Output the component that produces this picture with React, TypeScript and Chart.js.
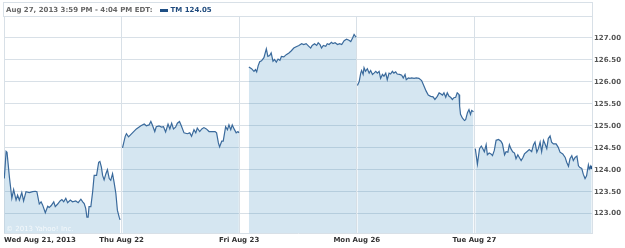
import React, { useEffect, useRef } from 'react';
import { Chart, registerables } from 'chart.js';

Chart.register(...registerables);

const dayLabels = ['Wed Aug 21, 2013', 'Thu Aug 22', 'Fri Aug 23', 'Mon Aug 26', 'Tue Aug 27', ''];
const dayStarts = [0, 390, 780, 1170, 1560, 1950];
const yTicks = [123, 123.5, 124, 124.5, 125, 125.5, 126, 126.5, 127, 127.5];
const headerText = 'Aug 27, 2013 3:59 PM - 4:04 PM EDT:';
const seriesName = 'TM 124.05';

// minutes after the 9:30 open, and prices
const wedTimes = [1, 7, 10, 18, 26, 32, 40, 45, 51, 59, 65, 73, 84, 95, 104, 109, 117, 123, 128, 137, 145, 150, 156, 165, 170, 178, 186, 192, 198, 205, 211, 220, 227, 238, 246, 255, 261, 266, 271, 275, 279, 282, 288, 294, 299, 307, 314, 318, 323, 327, 332, 338, 343, 349, 354, 360, 365, 371, 376, 382, 385];
const wedPrices = [123.80, 124.42, 124.40, 123.83, 123.35, 123.55, 123.31, 123.42, 123.31, 123.48, 123.29, 123.50, 123.48, 123.50, 123.51, 123.50, 123.22, 123.27, 123.20, 123.02, 123.17, 123.14, 123.18, 123.27, 123.16, 123.22, 123.29, 123.32, 123.27, 123.35, 123.25, 123.31, 123.27, 123.29, 123.25, 123.33, 123.27, 123.23, 123.12, 122.92, 122.92, 123.16, 123.16, 123.50, 123.87, 123.87, 124.17, 124.19, 124.06, 123.87, 123.77, 123.91, 124.00, 123.80, 123.76, 123.91, 123.72, 123.46, 123.08, 122.92, 122.86];

const thuTimes = [3, 12, 16, 23, 36, 49, 64, 75, 82, 91, 97, 102, 110, 115, 124, 132, 139, 146, 154, 160, 166, 172, 179, 185, 192, 198, 207, 218, 226, 232, 240, 246, 251, 259, 266, 273, 281, 290, 299, 310, 315, 321, 325, 332, 337, 345, 351, 356, 362, 367, 373, 380, 386, 389];
const thuPrices = [124.50, 124.76, 124.82, 124.75, 124.84, 124.93, 125.00, 125.04, 125.00, 125.02, 125.10, 125.02, 124.87, 124.98, 125.00, 124.97, 124.98, 124.86, 125.04, 124.93, 125.06, 124.93, 124.97, 125.06, 125.10, 125.00, 124.84, 124.82, 124.84, 124.76, 124.91, 124.84, 124.95, 124.87, 124.93, 124.96, 124.93, 124.87, 124.87, 124.87, 124.84, 124.61, 124.52, 124.65, 124.65, 124.98, 124.91, 125.02, 124.91, 125.02, 124.93, 124.84, 124.87, 124.84];

const friTimes = [32, 41, 49, 54, 58, 63, 68, 74, 82, 90, 95, 101, 106, 112, 117, 123, 129, 135, 140, 148, 156, 165, 173, 181, 189, 198, 207, 214, 222, 231, 237, 242, 250, 257, 262, 268, 273, 279, 287, 292, 298, 306, 311, 318, 326, 333, 340, 348, 356, 364, 370, 376, 381, 385, 388];
const friPrices = [126.34, 126.30, 126.24, 126.28, 126.23, 126.37, 126.46, 126.48, 126.55, 126.75, 126.58, 126.60, 126.66, 126.47, 126.51, 126.45, 126.52, 126.49, 126.58, 126.57, 126.62, 126.66, 126.71, 126.77, 126.80, 126.83, 126.87, 126.85, 126.87, 126.81, 126.77, 126.83, 126.87, 126.83, 126.89, 126.85, 126.77, 126.83, 126.81, 126.87, 126.85, 126.90, 126.87, 126.89, 126.85, 126.87, 126.85, 126.94, 126.97, 126.95, 126.92, 127.00, 127.08, 127.04, 127.02];

const monTimes = [2, 8, 13, 16, 21, 24, 29, 35, 41, 46, 52, 57, 63, 68, 74, 79, 85, 90, 96, 101, 107, 112, 118, 123, 129, 134, 142, 149, 154, 160, 164, 171, 176, 182, 190, 197, 206, 215, 223, 230, 237, 245, 253, 259, 267, 273, 278, 284, 289, 295, 300, 306, 311, 317, 322, 328, 333, 339, 341, 344, 350, 357, 361, 367, 372, 377, 381, 387];
const monPrices = [125.92, 126.01, 126.20, 126.26, 126.17, 126.32, 126.24, 126.30, 126.20, 126.26, 126.17, 126.20, 126.24, 126.20, 126.24, 126.08, 126.17, 126.13, 126.20, 126.05, 126.20, 126.18, 126.24, 126.20, 126.23, 126.18, 126.17, 126.15, 126.09, 126.17, 126.05, 126.09, 126.08, 126.09, 126.08, 126.09, 126.08, 126.03, 125.90, 125.79, 125.70, 125.67, 125.66, 125.60, 125.67, 125.75, 125.73, 125.70, 125.75, 125.65, 125.75, 125.67, 125.65, 125.60, 125.64, 125.65, 125.75, 125.71, 125.45, 125.26, 125.18, 125.12, 125.14, 125.30, 125.37, 125.26, 125.35, 125.32];

const tueTimes = [3, 10, 17, 23, 28, 33, 39, 43, 49, 55, 60, 66, 72, 80, 88, 93, 100, 105, 111, 116, 121, 127, 133, 138, 144, 149, 155, 161, 166, 174, 182, 190, 196, 201, 207, 212, 218, 223, 229, 234, 240, 245, 251, 256, 262, 271, 278, 284, 293, 301, 306, 312, 317, 323, 328, 334, 340, 345, 350, 356, 361, 367, 372, 378, 381, 386, 389];
const tuePrices = [124.48, 124.13, 124.48, 124.54, 124.48, 124.41, 124.57, 124.34, 124.38, 124.36, 124.32, 124.44, 124.67, 124.69, 124.65, 124.59, 124.34, 124.41, 124.40, 124.57, 124.48, 124.41, 124.38, 124.25, 124.34, 124.28, 124.21, 124.28, 124.36, 124.41, 124.46, 124.41, 124.57, 124.63, 124.40, 124.48, 124.63, 124.41, 124.67, 124.59, 124.48, 124.71, 124.77, 124.63, 124.59, 124.59, 124.51, 124.40, 124.36, 124.28, 124.17, 124.08, 124.25, 124.32, 124.21, 124.28, 124.31, 124.09, 124.05, 124.03, 123.90, 123.80, 123.86, 124.11, 124.02, 124.09, 124.05];

const days = [
  { times: wedTimes, prices: wedPrices },
  { times: thuTimes, prices: thuPrices },
  { times: friTimes, prices: friPrices },
  { times: monTimes, prices: monPrices },
  { times: tueTimes, prices: tuePrices },
];

const FONT = '"DejaVu Sans", Verdana, sans-serif';
const GRID = '#d8e0e7';
const LINE = '#3a6a9c';
const FILL = 'rgba(45,130,185,0.2)';

export default function App() {
  const ref = useRef<HTMLCanvasElement>(null);

  useEffect(() => {
    if (!ref.current) return;
    const lastDay = days.length - 1;
    const datasets = days.map((d, di) => ({
      label: dayLabels[di],
      data: d.times.map((t, i) => ({ x: dayStarts[di] + t, y: d.prices[i] })),
      borderColor: LINE,
      borderWidth: 1.2,
      backgroundColor: FILL,
      fill: 'start',
      tension: 0,
      pointStyle: 'rect',
      pointBackgroundColor: '#1f4f85',
      pointBorderColor: '#1f4f85',
      pointBorderWidth: 0,
      pointRadius: (c: any) => (di === lastDay && c.dataIndex === d.times.length - 1 ? 2 : 0),
    }));

    const chart = new Chart(ref.current, {
      type: 'line',
      data: { datasets } as any,
      options: {
        animation: false,
        responsive: false,
        maintainAspectRatio: false,
        layout: { padding: { left: 0, top: 16, right: 0, bottom: 0 } },
        plugins: { legend: { display: false }, tooltip: { enabled: false } },
        scales: {
          x: {
            type: 'linear',
            min: dayStarts[0],
            max: dayStarts[dayStarts.length - 1],
            afterBuildTicks: (s: any) => {
              s.ticks = dayStarts.map((v) => ({ value: v }));
            },
            afterFit: (s: any) => {
              s.height = 15;
            },
            ticks: {
              align: 'inner',
              autoSkip: false,
              maxRotation: 0,
              padding: 3,
              color: '#333',
              font: { family: FONT, size: 7, weight: 'bold' },
              callback: (_v: any, i: number) => dayLabels[i],
            },
            grid: { color: GRID, drawTicks: false },
            border: { display: true, color: GRID },
          },
          y: {
            position: 'right',
            min: 122.56,
            max: 127.5,
            afterBuildTicks: (s: any) => {
              s.ticks = yTicks.map((v) => ({ value: v }));
            },
            afterFit: (s: any) => {
              s.width = 33;
            },
            ticks: {
              padding: 2,
              color: '#555',
              font: { family: FONT, size: 7, weight: 'bold' },
              callback: (v: any) => (v >= 127.5 ? '' : Number(v).toFixed(2)),
            },
            grid: { color: GRID, drawTicks: false },
            border: { display: true, color: GRID },
          },
        },
      } as any,
    });
    return () => chart.destroy();
  }, []);

  return (
    <div style={{ position: 'fixed', left: 0, top: 0, width: 625, height: 248, background: '#fff', fontFamily: FONT }}>
      <canvas ref={ref} width={625} height={248} style={{ position: 'absolute', left: 0, top: 0, width: 625, height: 248 }} />
      <div
        style={{
          position: 'absolute',
          left: 3,
          top: 2,
          width: 590,
          height: 15,
          boxSizing: 'border-box',
          border: `1px solid ${GRID}`,
          borderBottom: 'none',
          display: 'flex',
          alignItems: 'center',
          fontSize: 7,
          fontWeight: 'bold',
          whiteSpace: 'nowrap',
          paddingLeft: 2,
        }}
      >
        <span style={{ color: '#666' }}>{headerText}</span>
        <span style={{ display: 'inline-block', width: 8, height: 3, background: '#1f4f85', marginLeft: 7, marginRight: 3 }} />
        <span style={{ color: '#1f4a7d' }}>{seriesName}</span>
      </div>
      <div style={{ position: 'absolute', left: 6, top: 225, fontSize: 7, color: 'rgba(255,255,255,0.75)', whiteSpace: 'nowrap' }}>
        © 2013 Yahoo! Inc.
      </div>
    </div>
  );
}
